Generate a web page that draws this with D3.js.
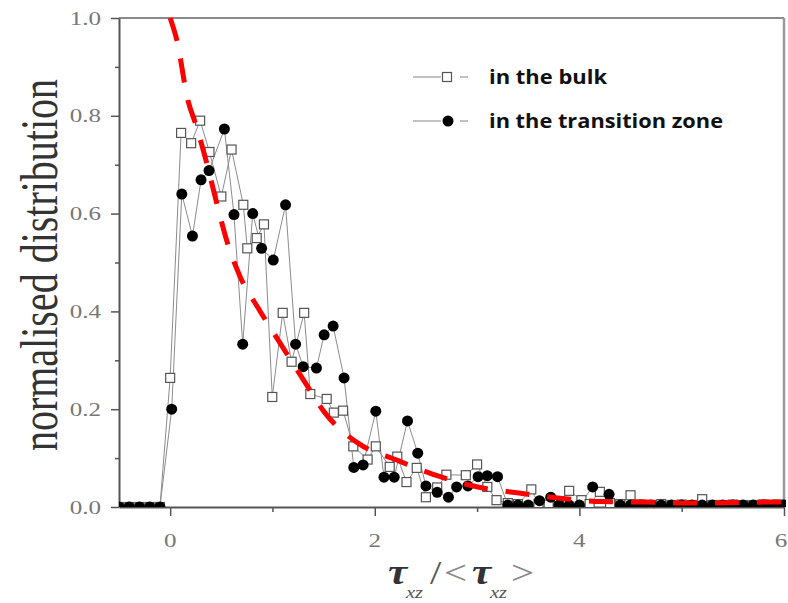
<!DOCTYPE html>
<html>
<head>
<meta charset="utf-8">
<script src="https://cdn.jsdelivr.net/npm/d3@7/dist/d3.min.js"></script>
<style>
  html, body { margin: 0; padding: 0; background: #fff; }
  svg { display: block; }
</style>
</head>
<body>
<svg id="chart" width="788" height="603"></svg>
<script>
// ---------------- data ----------------
const xTicksMajor = [0, 2, 4, 6];
const xTicksMinor = [1, 3, 5];
const yTicksMajor = [0, 0.2, 0.4, 0.6, 0.8, 1.0];
const yTicksMinor = [0.1, 0.3, 0.5, 0.7, 0.9];
const seriesNames = ["in the bulk", "in the transition zone"];

const bulkX = [-0.5, -0.4, -0.3, -0.2, -0.1, 0.0, 0.107, 0.205, 0.293, 0.384, 0.5, 0.6, 0.715, 0.754, 0.846, 0.917,
  0.998, 1.10, 1.187, 1.31, 1.37, 1.53, 1.60, 1.69, 1.79, 1.93, 2.01, 2.146, 2.22, 2.31, 2.41, 2.50, 2.61, 2.70,
  2.89, 3.0, 3.1, 3.19, 3.3, 3.4, 3.53, 3.6, 3.7, 3.8, 3.9, 4.02, 4.1, 4.20, 4.3, 4.4, 4.50, 4.6, 4.7, 4.8, 4.9,
  5.0, 5.1, 5.2, 5.3, 5.4, 5.5, 5.6, 5.7, 5.8, 5.9, 5.96];
const bulkY = [0, 0, 0, 0, 0, 0.264, 0.765, 0.744, 0.79, 0.726, 0.635, 0.731, 0.618, 0.529, 0.55, 0.578,
  0.225, 0.397, 0.297, 0.397, 0.231, 0.221, 0.193, 0.197, 0.124, 0.097, 0.124, 0.082, 0.103, 0.051, 0.08, 0.02, 0.04, 0.066,
  0.065, 0.087, 0.041, 0.014, 0.008, 0.006, 0.036, 0.006, 0.005, 0.008, 0.033, 0.014, 0.006, 0.031, 0.008, 0.006, 0.024, 0.005, 0.004, 0.006, 0.004,
  0.005, 0.004, 0.016, 0.004, 0.004, 0.005, 0.004, 0.004, 0.005, 0.004, 0.005];

const transX = [-0.5, -0.4, -0.3, -0.2, -0.1, 0.015, 0.114, 0.218, 0.302, 0.38, 0.53, 0.624, 0.709, 0.807, 0.894,
  1.008, 1.128, 1.226, 1.30, 1.43, 1.505, 1.593, 1.70, 1.795, 1.886, 2.01, 2.09, 2.19, 2.32, 2.42, 2.50, 2.61,
  2.72, 2.80, 2.91, 3.01, 3.10, 3.20, 3.3, 3.4, 3.5, 3.61, 3.72, 3.8, 3.9, 4.0, 4.13, 4.29, 4.4, 4.5, 4.6, 4.7,
  4.8, 4.9, 5.0, 5.1, 5.2, 5.3, 5.4, 5.5, 5.6, 5.7, 5.8, 5.9, 6.0];
const transY = [0, 0, 0, 0, 0, 0.2, 0.64, 0.554, 0.669, 0.688, 0.773, 0.598, 0.333, 0.6, 0.529,
  0.505, 0.618, 0.333, 0.287, 0.284, 0.352, 0.37, 0.264, 0.081, 0.086, 0.196, 0.061, 0.061, 0.176, 0.11, 0.043, 0.03,
  0.02, 0.041, 0.043, 0.062, 0.064, 0.062, 0.004, 0.004, 0.004, 0.013, 0.02, 0.004, 0.004, 0.004, 0.041, 0.026, 0.004, 0.004, 0.004, 0.004,
  0.004, 0.004, 0.004, 0.004, 0.004, 0.004, 0.004, 0.004, 0.004, 0.004, 0.004, 0.004, 0.004];

// red dashed curve
const fitX = [0, 0.065, 0.173, 0.254, 0.358, 0.456, 0.56, 0.684, 0.863, 1.075, 1.303, 1.515, 1.84, 2.215, 2.64, 3.03,
  3.39, 3.81, 4.22, 4.62, 5.18, 5.81, 6.0];
const fitY = [1.0, 0.955, 0.832, 0.78, 0.703, 0.621, 0.54, 0.471, 0.406, 0.335, 0.26, 0.192, 0.13, 0.096, 0.062, 0.04,
  0.029, 0.018, 0.011, 0.01, 0.008, 0.01, 0.01];

// ---------------- layout ----------------
const svg = d3.select("#chart");
const x = d3.scaleLinear().domain([-0.5, 6]).range([119, 784]);
const y = d3.scaleLinear().domain([0, 1]).range([507, 18]);
const serif = "'Liberation Serif', 'DejaVu Serif', serif";
const stretch = 1.32;

svg.append("defs").append("clipPath").attr("id", "plotclip")
  .append("rect").attr("x", x(-0.5)).attr("y", y(1) - 4).attr("width", x(6) - x(-0.5) + 2).attr("height", y(0) - y(1) + 4);

// frame (top & right)
svg.append("line").attr("x1", x(-0.5)).attr("x2", x(6)).attr("y1", y(1)).attr("y2", y(1))
  .attr("stroke", "#8a8a8a").attr("stroke-width", 2);
svg.append("line").attr("x1", x(6)).attr("x2", x(6)).attr("y1", y(1)).attr("y2", y(0))
  .attr("stroke", "#999").attr("stroke-width", 2.5);

// axes
function styleAxis(g) {
  g.select(".domain").attr("stroke", "#555").attr("stroke-width", 2);
  g.selectAll(".tick line").attr("stroke", "#555").attr("stroke-width", 1.5);
  g.selectAll(".tick text").remove();
}
svg.append("g").attr("transform", `translate(${x(-0.5)},0)`)
  .call(d3.axisLeft(y).tickValues(yTicksMajor).tickSize(8).tickSizeOuter(0)).call(styleAxis);
svg.append("g").attr("transform", `translate(${x(-0.5)},0)`)
  .call(d3.axisLeft(y).tickValues(yTicksMinor).tickSize(4).tickSizeOuter(0))
  .call(g => { styleAxis(g); g.select(".domain").remove(); });
svg.append("g").attr("transform", `translate(0,${y(0)})`)
  .call(d3.axisBottom(x).tickValues(xTicksMajor).tickSize(9).tickSizeOuter(0)).call(styleAxis);
svg.append("g").attr("transform", `translate(0,${y(0)})`)
  .call(d3.axisBottom(x).tickValues(xTicksMinor).tickSize(5).tickSizeOuter(0))
  .call(g => { styleAxis(g); g.select(".domain").remove(); });

// tick labels (stretched horizontally like the picture)
svg.append("g").selectAll("text").data(yTicksMajor).join("text")
  .attr("transform", d => `translate(101,${y(d)}) scale(${stretch},1)`)
  .attr("text-anchor", "end").attr("dy", "0.35em")
  .attr("font-family", serif).attr("font-size", 19).attr("fill", "#777")
  .text(d => d3.format(".1f")(d));
svg.append("g").selectAll("text").data(xTicksMajor).join("text")
  .attr("transform", d => `translate(${Math.min(x(d), 781)},547) scale(${stretch},1)`)
  .attr("text-anchor", "middle")
  .attr("font-family", serif).attr("font-size", 19).attr("fill", "#777")
  .text(d => d);

// axis titles
svg.append("text")
  .attr("transform", `translate(57,265) scale(${stretch},1) rotate(-90)`)
  .attr("text-anchor", "middle")
  .attr("font-family", serif).attr("font-size", 40).attr("fill", "#333")
  .text("normalised distribution");

// x title: τ_xz / < τ_xz >
const xtParts = [
  { t: "τ", px: 388, py: 584, fs: 36, it: true, bold: true, fill: "#333" },
  { t: "xz", px: 406, py: 598, fs: 17, it: true, bold: false, fill: "#555" },
  { t: "/", px: 430, py: 584, fs: 34, it: false, bold: false, fill: "#555" },
  { t: "<", px: 444, py: 584, fs: 34, it: false, bold: false, fill: "#888" },
  { t: "τ", px: 472, py: 584, fs: 36, it: true, bold: true, fill: "#333" },
  { t: "xz", px: 490, py: 598, fs: 17, it: true, bold: false, fill: "#555" },
  { t: ">", px: 511, py: 584, fs: 34, it: false, bold: false, fill: "#888" }
];
svg.append("g").selectAll("text").data(xtParts).join("text")
  .attr("transform", d => `translate(${d.px},${d.py}) scale(1.2,1)`)
  .attr("font-family", serif).attr("font-size", d => d.fs)
  .attr("font-style", d => d.it ? "italic" : "normal")
  .attr("font-weight", d => d.bold ? "bold" : "normal")
  .attr("fill", d => d.fill)
  .text(d => d.t);

// series
const plot = svg.append("g").attr("clip-path", "url(#plotclip)");
const line = d3.line().x(d => x(d[0])).y(d => y(d[1]));
const bulk = bulkX.map((v, i) => [v, bulkY[i]]);
const trans = transX.map((v, i) => [v, transY[i]]);

plot.append("path").datum(bulk).attr("d", line).attr("fill", "none").attr("stroke", "#8c8c8c").attr("stroke-width", 1);
plot.append("path").datum(trans).attr("d", line).attr("fill", "none").attr("stroke", "#8c8c8c").attr("stroke-width", 1);

const sq = 9;
plot.append("g").selectAll("rect").data(bulk).join("rect")
  .attr("x", d => x(d[0]) - sq / 2).attr("y", d => y(d[1]) - sq / 2)
  .attr("width", sq).attr("height", sq)
  .attr("fill", "#fff").attr("stroke", "#555").attr("stroke-width", 1.2);
plot.append("g").selectAll("circle").data(trans).join("circle")
  .attr("cx", d => x(d[0])).attr("cy", d => y(d[1])).attr("r", 5.5)
  .attr("fill", "#000");

// fit curve
const fit = fitX.map((v, i) => [v, fitY[i]]);
plot.append("path").datum(fit)
  .attr("d", d3.line().x(d => x(d[0])).y(d => y(d[1])).curve(d3.curveMonotoneX))
  .attr("fill", "none").attr("stroke", "#ff0000").attr("stroke-width", 5)
  .attr("stroke-dasharray", "24,18");

// legend
const lg = svg.append("g").attr("font-family", "'Open Sans', 'Liberation Sans', sans-serif");
const legY = [77, 121];
const legW = [118, 234];
legY.forEach((ly, i) => {
  lg.append("line").attr("x1", 413).attr("x2", 441).attr("y1", ly).attr("y2", ly).attr("stroke", "#999").attr("stroke-width", 1.2);
  lg.append("line").attr("x1", 460).attr("x2", 468).attr("y1", ly).attr("y2", ly).attr("stroke", "#999").attr("stroke-width", 1.2);
  if (i === 0) {
    lg.append("rect").attr("x", 447 - 4.5).attr("y", ly - 4.5).attr("width", 9).attr("height", 9)
      .attr("fill", "#fff").attr("stroke", "#555").attr("stroke-width", 1.2);
  } else {
    lg.append("circle").attr("cx", 448).attr("cy", ly).attr("r", 5.5).attr("fill", "#000");
  }
  lg.append("text").attr("x", 489).attr("y", ly + 7).attr("font-size", 20).attr("font-weight", "bold")
    .attr("textLength", legW[i]).attr("lengthAdjust", "spacingAndGlyphs")
    .attr("fill", "#111").text(seriesNames[i]);
});
</script>
</body>
</html>
